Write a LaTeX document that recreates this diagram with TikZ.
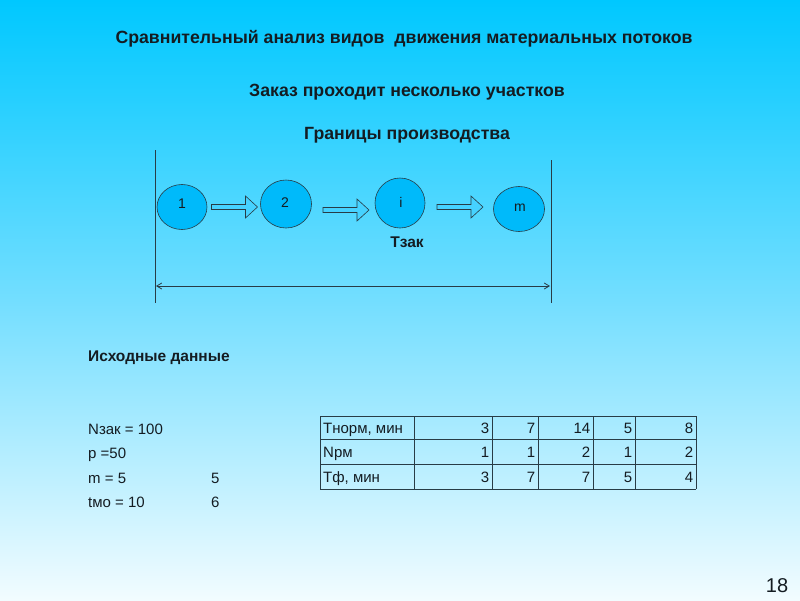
\documentclass[tikz,border=0pt]{standalone}
\usepackage{fontspec}
\setmainfont{Liberation Sans}
\usetikzlibrary{arrows.meta,shapes.geometric}
\definecolor{txt}{RGB}{20,28,34}
\definecolor{linecol}{RGB}{40,60,70}
\definecolor{ellfill}{RGB}{0,186,250}
\definecolor{arrfill}{RGB}{70,210,255}
\definecolor{bgtop}{RGB}{0,200,255}
\definecolor{bgmid}{RGB}{115,222,255}
\definecolor{bgbot}{RGB}{242,252,255}
\tikzset{
  ttl/.style={font=\fontsize{17.7}{20}\selectfont\bfseries, text=txt, anchor=base, inner sep=0pt},
  sub/.style={font=\fontsize{15.5}{18}\selectfont\bfseries, text=txt, anchor=base, inner sep=0pt},
  plain/.style={font=\fontsize{15}{18}\selectfont, text=txt, anchor=base west, inner sep=0pt},
  cellnum/.style={font=\fontsize{15}{18}\selectfont, text=txt, anchor=base east, inner sep=0pt},
  stage/.style={ellipse, draw=linecol, fill=ellfill, line width=0.6pt, inner sep=0pt},
  stagelbl/.style={font=\fontsize{14}{16}\selectfont, text=txt, anchor=base, inner sep=0pt},
  border/.style={draw=linecol, line width=0.8pt},
  grid/.style={draw=linecol, line width=0.8pt},
  pics/barrow/.style={code={
    \draw[fill=arrfill, draw=linecol, line width=0.6pt]
      (-23,-2.5) -- (11,-2.5) -- (11,-11) -- (23,0) -- (11,11) -- (11,2.5) -- (-23,2.5) -- cycle;}}
}
\begin{document}
\begin{tikzpicture}[x=1pt,y=-1pt]
\useasboundingbox (0,0) rectangle (800,600);
\shade[top color=bgtop, bottom color=bgbot, middle color=bgmid] (0,0) rectangle (800,600);

% titles
\node[ttl] (t1) at (404,43) {Сравнительный анализ видов~ движения материальных потоков};
\node[ttl] (t2) at (407,96) {Заказ проходит несколько участков};
\node[ttl] (t3) at (407,139) {Границы производства};

% boundaries
\coordinate (lt) at (155,150); \coordinate (lb) at (155,303);
\coordinate (rt) at (551,160); \coordinate (rb) at (551,303);
\draw[border] (lt) -- (lb);
\draw[border] (rt) -- (rb);
\coordinate (al) at (156,286); \coordinate (ar) at (550,286);
\draw[border, {Straight Barb[length=5pt,width=6pt]}-{Straight Barb[length=5pt,width=6pt]}] (al) -- (ar);

% stages
\node[stage, minimum width=50pt, minimum height=45pt] (s1) at (182,207) {};
\node[stage, minimum width=51pt, minimum height=48pt] (s2) at (286,204) {};
\node[stage, minimum width=50pt, minimum height=50pt] (si) at (400,203) {};
\node[stage, minimum width=51pt, minimum height=45pt] (sm) at (519,209) {};
\node[stagelbl] (l1) at (182,208) {1};
\node[stagelbl] (l2) at (285,207) {2};
\node[stagelbl] (li) at (401,207) {i};
\node[stagelbl] (lm) at (520,211) {m};

\pic at (234.5,207) {barrow};
\pic at (346,210) {barrow};
\pic at (460,207) {barrow};

\node[sub] (tz) at (407,247) {Тзак};

% initial data
\node[sub, anchor=base west] (h) at (88,361) {Исходные данные};
\node[plain] (d1) at (88,434) {Nзак = 100};
\node[plain] (d2) at (88,458) {p =50};
\node[plain] (d3) at (88,483) {m = 5};
\node[plain] (d4) at (88,507) {tмо = 10};
\node[plain] (d5) at (211,483) {5};
\node[plain] (d6) at (211,507) {6};

% table
\foreach \x in {320,414,492,538,593,635,696} \draw[grid] (\x,416) -- (\x,489);
\foreach \y in {416,439,464,489} \draw[grid] (320,\y) -- (696,\y);
\node[plain] (r1) at (323,433) {Тнорм, мин};
\node[plain] (r2) at (323,457) {Nрм};
\node[plain] (r3) at (323,482) {Тф, мин};
\foreach \v [count=\i] in {3,7,14,5,8} {
  \pgfmathsetmacro{\xr}{{414,492,538,593,635,696}[\i]-2.5}
  \node[cellnum] at (\xr,433) {\v};}
\foreach \v [count=\i] in {1,1,2,1,2} {
  \pgfmathsetmacro{\xr}{{414,492,538,593,635,696}[\i]-2.5}
  \node[cellnum] at (\xr,457) {\v};}
\foreach \v [count=\i] in {3,7,7,5,4} {
  \pgfmathsetmacro{\xr}{{414,492,538,593,635,696}[\i]-2.5}
  \node[cellnum] at (\xr,482) {\v};}

\node[font=\fontsize{20}{22}\selectfont, text=txt, anchor=base, inner sep=0pt] (pg) at (777,592) {18};
\end{tikzpicture}
\end{document}
